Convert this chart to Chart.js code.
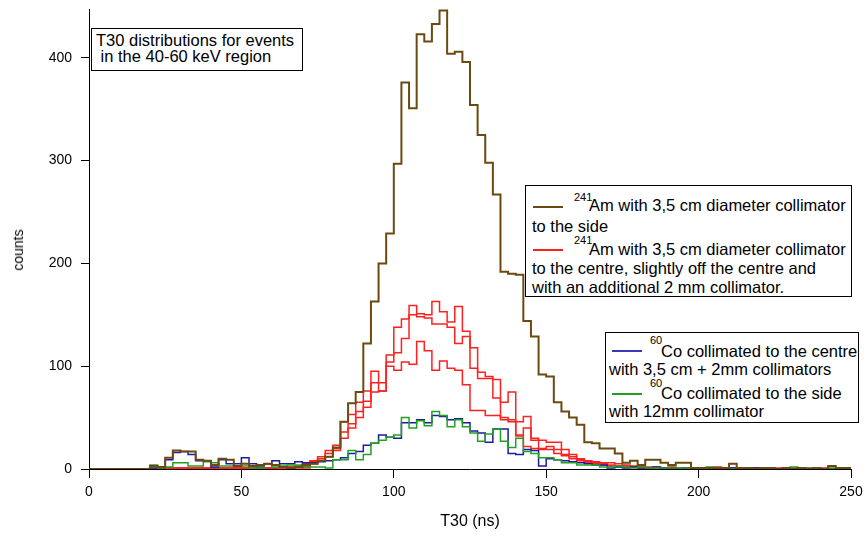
<!DOCTYPE html>
<html>
<head>
<meta charset="utf-8">
<title>T30 distributions</title>
<script src="https://cdn.jsdelivr.net/npm/chart.js@4.4.1/dist/chart.umd.min.js"></script>
<style>
  body { margin: 0; background: #fff; font-family: "Liberation Sans", Arial, sans-serif; }
  .wrap { position: relative; width: 866px; height: 536px; }
  canvas { position: absolute; left: 0; top: 0; }
  .box { position: absolute; box-sizing: border-box; background: #fff; border: 1px solid #000; color: #000; }
  .box span { position: absolute; white-space: nowrap; line-height: 1; font-size: 16.5px; }
  .box span.sup { font-size: 11px; }
  .box i { position: absolute; height: 2px; width: 30px; }
  .ytitle { position: absolute; left: 18px; top: 250px; font-size: 14px; line-height: 1;
            transform: translate(-50%, -50%) rotate(-90deg); white-space: nowrap; color: #000; }
</style>
</head>
<body>
<div class="wrap">
  <canvas id="histo" width="866" height="536"></canvas>
  <div class="ytitle">counts</div>

  <div class="box" style="left:91px; top:28px; width:212px; height:43px;">
    <span style="left:4px; top:3px;">T30 distributions for events</span>
    <span style="left:4px; top:19px;">&nbsp;in the 40-60 keV region</span>
  </div>

  <div class="box" style="left:525px; top:185px; width:327px; height:112px;">
    <i style="left:7px; top:20px; background:#6b4a10;"></i>
    <span class="sup" style="left:48px; top:6px;">241</span>
    <span style="left:63px; top:11px;">Am with 3,5 cm diameter collimator</span>
    <span style="left:6px; top:32px;">to the side</span>
    <i style="left:7px; top:63px; height:1.5px; background:#ff2020;"></i>
    <span class="sup" style="left:48px; top:49px;">241</span>
    <span style="left:63px; top:55px;">Am with 3,5 cm diameter collimator</span>
    <span style="left:6px; top:74px;">to the centre, slightly off the centre and</span>
    <span style="left:6px; top:93px;">with an additional 2 mm collimator.</span>
  </div>

  <div class="box" style="left:605px; top:332px; width:254px; height:91px;">
    <i style="left:6px; top:17px; height:1.5px; background:#3a3ab8;"></i>
    <span class="sup" style="left:44px; top:2px;">60</span>
    <span style="left:55px; top:10px;">Co collimated to the centre</span>
    <span style="left:3px; top:28px;">with 3,5 cm + 2mm collimators</span>
    <i style="left:6px; top:60px; height:1.5px; background:#22a022;"></i>
    <span class="sup" style="left:44px; top:45px;">60</span>
    <span style="left:55px; top:52px;">Co collimated to the side</span>
    <span style="left:3px; top:70px;">with 12mm collimator</span>
  </div>
</div>

<script>
// histogram bins of 2.5 ns from 0 to 250 ns (100 bins), counts per bin
const binWidth = 2.5;
const xTicks = [0, 50, 100, 150, 200, 250];
const yTicks = [0, 100, 200, 300, 400];

// 241Am, 3,5 cm collimator, to the side
const amSide = [
  0, 0, 0, 0, 0, 0, 0, 0, 3, 2,
  11, 18, 17, 17, 9, 8, 4, 10, 9, 3,
  5, 3, 4, 5, 4, 2, 1, 2, 4, 5,
  8, 12, 21, 46, 64, 75, 122, 163, 200, 229,
  297, 376, 351, 423, 416, 433, 446, 404, 406, 396,
  354, 325, 298, 267, 192, 190, 189, 144, 129, 92,
  90, 65, 56, 50, 43, 26, 25, 20, 20, 15,
  6, 8, 4, 9, 9, 6, 4, 6, 6, 1,
  1, 1, 1, 1, 5, 1, 1, 0, 1, 1,
  0, 1, 0, 1, 0, 1, 0, 3, 1, 1
];

// 241Am runs: centre, slightly off centre, additional 2 mm collimator
const amCentreA = [
  0, 0, 0, 0, 0, 0, 0, 0, 0, 1,
  1, 1, 1, 1, 1, 1, 1, 1, 1, 1,
  1, 1, 1, 1, 1, 2, 2, 3, 5, 8,
  12, 18, 23, 46, 53, 65, 76, 95, 84, 111,
  138, 146, 159, 151, 150, 163, 153, 143, 158, 134,
  118, 94, 90, 87, 65, 75, 46, 51, 30, 28,
  26, 26, 19, 14, 10, 8, 7, 6, 6, 5,
  4, 3, 3, 2, 2, 1, 2, 1, 1, 1,
  1, 0, 2, 1, 1, 0, 1, 0, 0, 1,
  0, 0, 1, 0, 0, 0, 1, 0, 0, 0
];
const amCentreB = [
  0, 0, 0, 0, 0, 0, 0, 0, 0, 0,
  1, 1, 0, 1, 1, 1, 0, 1, 1, 1,
  0, 1, 1, 1, 1, 1, 2, 2, 1, 7,
  10, 15, 20, 36, 44, 56, 66, 84, 76, 104,
  113, 127, 150, 148, 147, 141, 141, 138, 122, 129,
  98, 88, 88, 69, 50, 48, 33, 40, 28, 20,
  22, 19, 14, 12, 9, 7, 6, 5, 4, 3,
  3, 2, 2, 1, 1, 1, 0, 1, 0, 1,
  0, 1, 0, 0, 1, 0, 0, 1, 0, 0,
  1, 0, 0, 0, 1, 0, 0, 0, 1, 0
];
const amCentreC = [
  0, 0, 0, 0, 0, 0, 0, 0, 0, 0,
  0, 1, 1, 0, 1, 0, 1, 0, 0, 1,
  1, 0, 1, 1, 0, 1, 1, 1, 2, 5,
  8, 12, 18, 30, 40, 50, 60, 75, 76, 100,
  96, 104, 102, 124, 115, 96, 105, 98, 96, 82,
  57, 57, 52, 52, 48, 46, 32, 22, 20, 19,
  19, 15, 13, 10, 8, 6, 5, 4, 3, 3,
  2, 2, 1, 1, 1, 0, 1, 0, 0, 1,
  0, 0, 1, 0, 0, 0, 0, 1, 0, 0,
  0, 0, 0, 0, 0, 1, 0, 0, 0, 0
];

// 60Co collimated to the centre, 3,5 cm + 2mm collimators
const coCentre = [
  0, 0, 0, 0, 0, 0, 0, 0, 1, 1,
  9, 16, 17, 14, 8, 8, 2, 9, 5, 5,
  11, 5, 2, 5, 8, 5, 5, 7, 6, 6,
  7, 8, 9, 11, 15, 17, 23, 25, 33, 31,
  30, 45, 45, 48, 45, 52, 51, 48, 49, 45,
  37, 35, 26, 39, 39, 15, 14, 19, 18, 3,
  10, 9, 8, 7, 6, 5, 4, 4, 1, 2,
  1, 2, 1, 1, 2, 1, 1, 0, 1, 0,
  1, 0, 1, 0, 1, 0, 0, 1, 0, 0,
  0, 1, 0, 0, 0, 0, 0, 0, 0, 0
];

// 60Co collimated to the side, 12mm collimator
const coSide = [
  0, 0, 0, 0, 0, 0, 0, 0, 4, 1,
  2, 6, 6, 3, 3, 7, 6, 3, 3, 3,
  3, 1, 1, 5, 2, 3, 4, 4, 2, 2,
  2, 1, 9, 9, 18, 9, 14, 25, 28, 31,
  33, 50, 40, 47, 42, 56, 52, 41, 48, 41,
  35, 27, 34, 39, 27, 21, 30, 17, 15, 11,
  11, 9, 6, 6, 4, 4, 4, 2, 2, 3,
  2, 1, 2, 1, 1, 1, 1, 1, 1, 1,
  1, 2, 1, 1, 0, 1, 1, 0, 0, 1,
  0, 1, 2, 0, 1, 0, 0, 1, 0, 0
];

// bin i starts at i*binWidth; one extra point closes the last bin
function histPoints(counts) {
  const pts = counts.map((c, i) => ({ x: i * binWidth, y: c }));
  pts.push({ x: counts.length * binWidth, y: counts[counts.length - 1] });
  return pts;
}

function histSet(label, counts, color, width, order) {
  return {
    label: label,
    data: histPoints(counts),
    borderColor: color,
    borderWidth: width,
    stepped: 'before',
    pointRadius: 0,
    fill: false,
    order: order
  };
}

const font = { family: '"Liberation Sans", Arial, sans-serif' };

new Chart(document.getElementById('histo'), {
  type: 'line',
  data: {
    datasets: [
      histSet('241Am to the side', amSide, '#6b4a10', 2, 0),
      histSet('60Co to the side', coSide, '#22a022', 1.5, 1),
      histSet('60Co to the centre', coCentre, '#1c1ca0', 1.5, 2),
      histSet('241Am centre', amCentreA, '#ff2020', 1.5, 3),
      histSet('241Am off centre', amCentreB, '#ff2020', 1.5, 3),
      histSet('241Am 2 mm', amCentreC, '#ff2020', 1.5, 3)
    ]
  },
  options: {
    responsive: false,
    animation: false,
    devicePixelRatio: 1,
    layout: { padding: { top: 9, right: 15, left: 0, bottom: 0 } },
    plugins: { legend: { display: false }, tooltip: { enabled: false } },
    scales: {
      x: {
        type: 'linear',
        min: xTicks[0],
        max: xTicks[xTicks.length - 1],
        afterFit: s => { s.height = 67; s.paddingLeft = 0; s.paddingRight = 0; },
        afterBuildTicks: s => { s.ticks = xTicks.map(v => ({ value: v })); },
        ticks: { color: '#000', font: { ...font, size: 14 }, padding: 6, maxRotation: 0 },
        grid: { drawOnChartArea: false, drawTicks: true, tickLength: 9, color: '#000' },
        border: { display: true, color: '#000', width: 1 },
        title: { display: true, text: 'T30 (ns)', color: '#000', font: { ...font, size: 16 }, padding: { bottom: 5 } }
      },
      y: {
        min: 0,
        max: 447.5,
        afterFit: s => { s.width = 89; s.paddingTop = 0; s.paddingBottom = 0; },
        afterBuildTicks: s => { s.ticks = yTicks.map(v => ({ value: v })); },
        ticks: { color: '#000', font: { ...font, size: 14 }, padding: 9 },
        grid: { drawOnChartArea: false, drawTicks: true, tickLength: 8, color: '#000' },
        border: { display: true, color: '#000', width: 1 }
      }
    }
  }
});
</script>
</body>
</html>
